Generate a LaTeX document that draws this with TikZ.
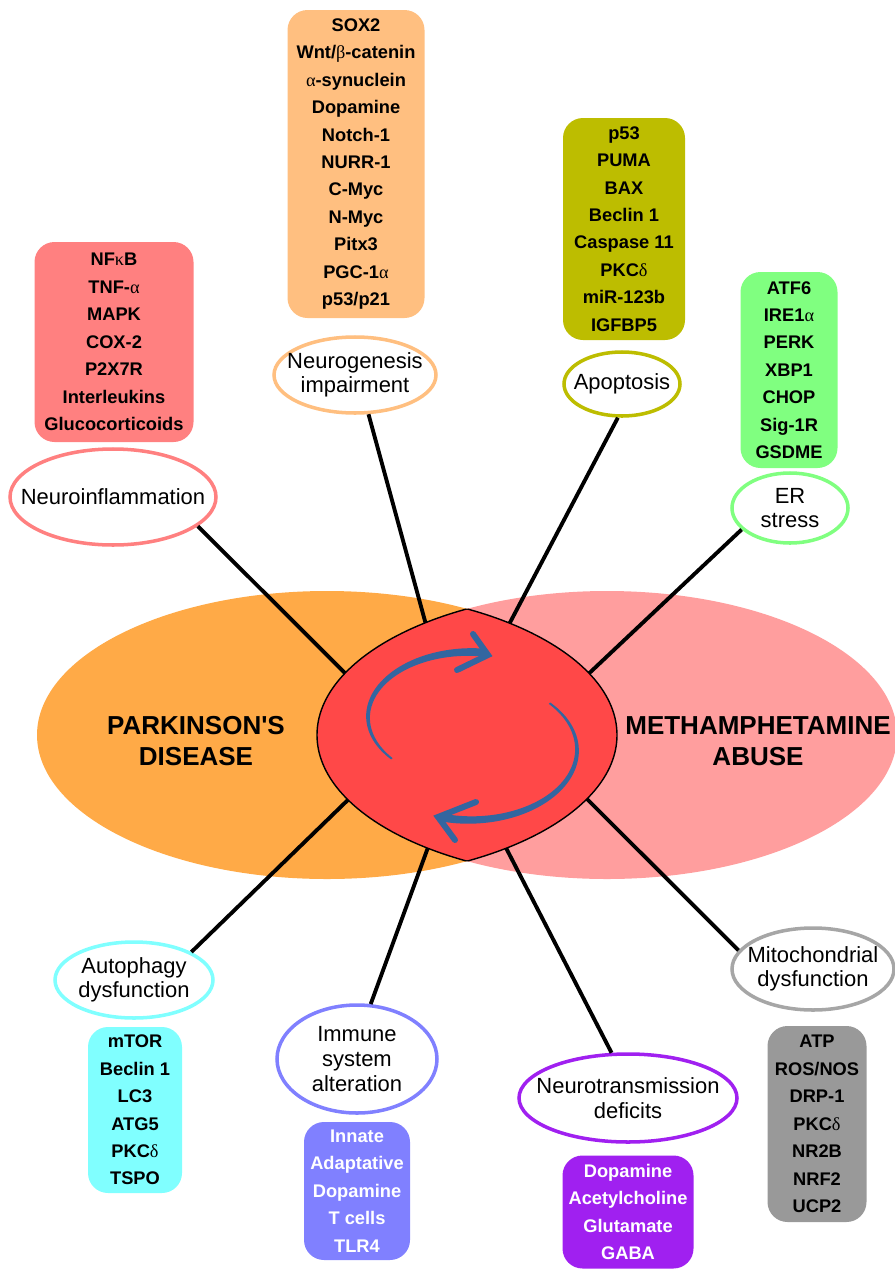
\documentclass[tikz,border=0pt]{standalone}
\usepackage{fontspec}
\setmainfont{Liberation Sans}
\newfontfamily\symgreek{Liberation Serif}
\usepackage{tikz}
\usetikzlibrary{shapes.geometric}

\definecolor{pdorange}{HTML}{FFAA47}
\definecolor{mapink}{HTML}{FF9E9E}
\definecolor{corered}{HTML}{FF4848}
\definecolor{cycleblue}{HTML}{3366A0}
\definecolor{inflred}{HTML}{FF8080}
\definecolor{genorange}{HTML}{FFBF80}
\definecolor{apoolive}{HTML}{BDBD00}
\definecolor{ergreen}{HTML}{80FF80}
\definecolor{autocyan}{HTML}{80FFFF}
\definecolor{immblue}{HTML}{8080FF}
\definecolor{ntpurple}{HTML}{A020F0}
\definecolor{mitogray}{HTML}{999999}
\definecolor{mitoedge}{HTML}{A6A6A6}

\newcommand{\gr}[1]{{\symgreek\mdseries #1}}

\tikzset{
  listbox/.style n args={3}{fill=#1, rounded corners=0.4cm, inner sep=0pt,
    align=center, minimum width=#2*0.02cm, minimum height=#3*0.02cm,
    font=\fontsize{10.4}{15.6}\selectfont\bfseries},
  topic/.style n args={4}{ellipse, draw=#1, line width=2pt, fill=white,
    inner sep=0pt, minimum width=#2*0.02cm, minimum height=#3*0.02cm,
    label={[align=center, font=\fontsize{12.5}{14}\selectfont]center:#4}},
  link/.style={line width=2.2pt},
  disease/.style={align=center, font=\fontsize{14.8}{17.6}\selectfont\bfseries},
  cyclehead/.style={cycleblue, line width=3.4pt, line cap=round, line join=miter},
}

\begin{document}
\begin{tikzpicture}[x=0.02cm, y=-0.02cm]

      \useasboundingbox (0,0) rectangle (894,1271);

      \fill [pdorange] (327,735) ellipse [x radius=290, y radius=144];
      \fill [mapink] (607,735) ellipse [x radius=290, y radius=144];

      \node [listbox={inflred}{159}{200}] (inflist) at (114,342)
        {NF\gr{κ}B\\TNF-\gr{α}\\MAPK\\COX-2\\P2X7R\\Interleukins\\Glucocorticoids};
      \node [topic={inflred}{206}{96}{Neuroinflammation}] (ninf) at (113,497) {};

      \node [listbox={genorange}{137}{308}] (genlist) at (356,164)
        {SOX2\\Wnt/\gr{β}-catenin\\\gr{α}-synuclein\\Dopamine\\Notch-1\\NURR-1\\C-Myc\\N-Myc\\Pitx3\\PGC-1\gr{α}\\p53/p21};
      \node [topic={genorange}{162}{76}{Neurogenesis\\impairment}] (ngen) at (355,375) {};

      \node [listbox={apoolive}{122}{222}] (apolist) at (624,229)
        {p53\\PUMA\\BAX\\Beclin 1\\Caspase 11\\PKC\gr{δ}\\miR-123b\\IGFBP5};
      \node [topic={apoolive}{116}{64}{Apoptosis}] (apop) at (622,384) {};

      \node [listbox={ergreen}{97}{196}] (erlist) at (789,370)
        {ATF6\\IRE1\gr{α}\\PERK\\XBP1\\CHOP\\Sig-1R\\GSDME};
      \node [topic={ergreen}{116}{70}{ER\\stress}] (ers) at (790,508) {};

      \node [topic={mitoedge}{162}{82}{Mitochondrial\\dysfunction}] (mito) at (813,969) {};
      \node [listbox={mitogray}{99}{196}] (mitolist) at (817,1124)
        {ATP\\ROS/NOS\\DRP-1\\PKC\gr{δ}\\NR2B\\NRF2\\UCP2};

      \node [topic={ntpurple}{218}{88}{Neurotransmission\\deficits}] (ntd) at (628,1098) {};
      \node [listbox={ntpurple}{131}{113}, text=white] (ntlist) at (628,1212)
        {Dopamine\\Acetylcholine\\Glutamate\\GABA};

      \node [topic={immblue}{160}{108}{Immune\\system\\alteration}] (imm) at (357,1059) {};
      \node [listbox={immblue}{106}{138}, text=white] (immlist) at (357,1191)
        {Innate\\Adaptative\\Dopamine\\T cells\\TLR4};

      \node [topic={autocyan}{158}{76}{Autophagy\\dysfunction}] (auto) at (134,980) {};
      \node [listbox={autocyan}{94}{166}] (autolist) at (135,1110)
        {mTOR\\Beclin 1\\LC3\\ATG5\\PKC\gr{δ}\\TSPO};

      \coordinate (p1) at (352,680);
      \coordinate (p2) at (428,632);
      \coordinate (p3) at (505,632);
      \coordinate (p4) at (582,680);
      \coordinate (p5) at (582,794);
      \coordinate (p6) at (503,842);
      \coordinate (p7) at (430,842);
      \coordinate (p8) at (354,794);

      \draw [link] (ninf.-19) -- (p1);
      \draw [link] (ngen.-71) -- (p2);
      \draw [link] (apop.-97) -- (p3);
      \draw [link] (ers.-156) -- (p4);
      \draw [link] (mito.166) -- (p5);
      \draw [link] (ntd.110) -- (p6);
      \draw [link] (imm.76) -- (p7);
      \draw [link] (auto.26.6) -- (p8);

      \begin{scope}
        \clip (327,735) ellipse [x radius=290, y radius=144];
        \filldraw [fill=corered, draw=black, line width=0.8pt]
          (607,735) ellipse [x radius=290, y radius=144];
      \end{scope}
      \begin{scope}
        \clip (607,735) ellipse [x radius=290, y radius=144];
        \draw [line width=0.8pt] (327,735) ellipse [x radius=290, y radius=144];
      \end{scope}

      \fill [cycleblue]
        plot [smooth, variable=\t, domain=140:278, samples=40]
          ({470+(102+1+3*(\t-140)/138)*cos(\t)}, {717+(65+1+3*(\t-140)/138)*sin(\t)})
        -- plot [smooth, variable=\t, domain=278:140, samples=40]
          ({470+(102-1-3*(\t-140)/138)*cos(\t)}, {717+(65-1-3*(\t-140)/138)*sin(\t)})
        -- cycle;
      \draw [cyclehead] (473,634) -- (488,655) -- (457,670);

      \fill [cycleblue]
        plot [smooth, variable=\t, domain=-42:105, samples=40]
          ({470+(107+1+3*(\t+42)/147)*cos(\t)}, {750+(70+1+3*(\t+42)/147)*sin(\t)})
        -- plot [smooth, variable=\t, domain=105:-42, samples=40]
          ({470+(107-1-3*(\t+42)/147)*cos(\t)}, {750+(70-1-3*(\t+42)/147)*sin(\t)})
        -- cycle;
      \draw [cyclehead] (476,802) -- (438,817) -- (455,840);

      \node [disease] (pd) at (196,741) {PARKINSON\textquotesingle S\\DISEASE};
      \node [disease] (ma) at (758,741) {METHAMPHETAMINE\\ABUSE};

    \end{tikzpicture}
\end{document}
